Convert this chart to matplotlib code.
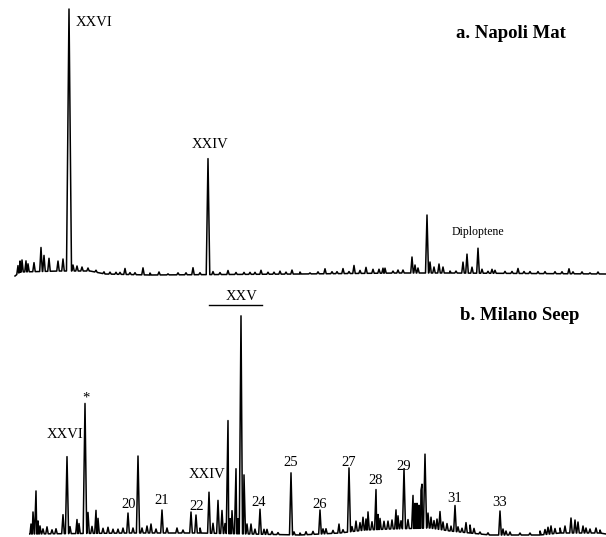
import numpy as np
import matplotlib
matplotlib.use("Agg")
import matplotlib.pyplot as plt

# ---------------- data (retention position, signal intensity) ----------------
# Panel a: Napoli Mat
a_peak_rt = [18, 20, 22, 26, 28, 34, 41, 44, 49, 58, 63, 69, 73, 77, 82, 88, 96, 104, 110, 116,
             120, 125, 130, 135, 143, 150, 159, 168, 178, 186, 193, 200, 208, 213, 220, 228, 236,
             244, 250, 255, 261, 268, 274, 280, 286, 292, 300, 310, 318, 325, 332, 337, 343, 349,
             354, 360, 366, 373, 379, 383, 385, 393, 398, 403, 412, 415, 418, 427, 430, 434, 439,
             443, 450, 456, 463, 467, 472, 478, 482, 488, 492, 495, 505, 512, 518, 524, 530, 538,
             545, 555, 562, 569, 573, 582, 590, 598]
a_peak_int = [8, 11, 12, 11, 8, 9, 24, 16, 13, 10, 12, 262, 6, 5, 4, 3, 2, 2, 2, 2,
              2, 6, 2, 2, 7, 2, 3, 1, 2, 2, 7, 2, 116, 3, 2, 4, 2,
              2, 2, 2, 4, 2, 2, 3, 2, 4, 2, 1, 2, 5, 2, 2, 5, 2,
              8, 3, 6, 4, 4, 5, 5, 2, 3, 3, 16, 8, 5, 58, 11, 6, 9,
              6, 2, 2, 11, 19, 6, 25, 4, 2, 4, 3, 2, 2, 5, 2, 2, 2,
              2, 2, 2, 5, 2, 2, 1, 2]
a_base_rt = [15, 20, 60, 90, 105, 150, 300, 400, 450, 606]
a_base_int = [-2, 2, 3, 3, 0, -1, 0, 1, 1, 0]

# Panel b: Milano Seep
b_peak_rt = [31, 33, 36, 38, 40, 43, 47, 52, 56, 63, 67, 70, 77, 79, 85, 88, 92, 96, 98, 103,
             108, 113, 118, 123, 128, 133, 138, 142, 147, 151, 156, 162, 167, 177, 183, 191, 196,
             200, 209, 213, 218, 222, 225, 228, 230, 232, 236, 238, 241, 244, 247, 251, 255, 260,
             264, 267, 272, 278, 291, 294, 300, 306, 313, 320, 323, 326, 333, 339, 343, 349, 352,
             356, 360, 363, 366, 368, 372, 376, 378, 380, 384, 388, 392, 396, 398, 401, 404, 408,
             413, 415, 417, 419, 421, 422, 425, 428, 431, 434, 437, 440, 443, 447, 451, 455, 458,
             462, 466, 470, 474, 480, 488, 500, 503, 506, 510, 520, 530, 540, 545, 548, 551, 555,
             560, 565, 571, 575, 578, 583, 586, 590, 596, 600]
b_peak_int = [10, 22, 43, 13, 8, 5, 7, 4, 5, 19, 77, 7, 14, 10, 130, 21, 7, 23, 15, 5,
              6, 4, 4, 5, 20, 5, 77, 5, 7, 9, 4, 23, 5, 5, 3, 21, 18,
              5, 41, 10, 33, 23, 10, 113, 15, 23, 65, 15, 218, 59, 10, 10, 5, 25,
              5, 5, 3, 2, 62, 3, 2, 3, 3, 24, 5, 5, 3, 9, 3, 64, 5,
              10, 8, 13, 11, 18, 8, 40, 15, 11, 8, 8, 9, 19, 13, 8, 60, 9,
              33, 25, 25, 23, 38, 44, 74, 15, 11, 8, 10, 18, 8, 7, 5, 26, 5,
              4, 10, 8, 5, 2, 2, 24, 6, 4, 3, 2, 2, 4, 5, 7, 8, 5,
              5, 7, 15, 13, 11, 7, 5, 4, 5, 3]
b_base_rt = [30, 130, 200, 300, 340, 365, 390, 430, 450, 470, 490, 540, 560, 600, 606]
b_base_int = [1, 2, 2, 0, 2, 5, 6, 7, 4, 2, 0, 0, 2, 2, 1]

# Labels
a_labels = ["XXVI", "XXIV", "Diploptene"]
a_label_rt = [76, 210, 478]
a_label_int = [252, 130, 42]

b_labels = ["XXVI", "*", "20", "21", "22", "XXIV", "24", "25", "26", "27", "28", "29", "31", "33"]
b_label_rt = [65, 86, 129, 162, 197, 207, 259, 291, 320, 349, 376, 404, 455, 500]
b_label_int = [101, 137, 30, 34, 29, 60, 32, 72, 31, 72, 55, 69, 37, 32]

xxv_range = [209, 262]
xxv_level = 230

# ---------------- drawing ----------------
W, H = 606, 537
fig = plt.figure(figsize=(W / 100, H / 100), dpi=100)
fig.patch.set_facecolor("white")
serif = ["Liberation Serif", "DejaVu Serif"]


def trace(peak_rt, peak_int, base_rt, base_int):
    peak_rt = np.asarray(peak_rt, float)
    peak_int = np.asarray(peak_int, float)
    xs, ys = list(base_rt), list(base_int)
    for x, h in zip(peak_rt, peak_int):
        w = 1.2 + 0.005 * h
        b0 = np.interp(x, base_rt, base_int)
        xs += [x - w, x, x + w]
        ys += [np.interp(x - w, base_rt, base_int), b0 + h, np.interp(x + w, base_rt, base_int)]
    order = np.argsort(xs, kind="stable")
    return np.asarray(xs)[order], np.asarray(ys)[order]


def make_axes(top_px, bot_px):
    ax = fig.add_axes([0, 1 - bot_px / H, 1, (bot_px - top_px) / H])
    ax.set_xlim(0, W)
    ax.axis("off")
    return ax

# panel a: pixel rows 0..282, baseline reference at row 274
ax_a = make_axes(0, 282)
ax_a.set_ylim(-8, 274)
xa, ya = trace(a_peak_rt, a_peak_int, a_base_rt, a_base_int)
ax_a.plot(xa, ya, color="black", lw=1.1, clip_on=False)
for lab, x, y in zip(a_labels, a_label_rt, a_label_int):
    if lab == "XXVI":
        ax_a.text(x, y, lab, ha="left", va="center", fontsize=10.5, family=serif)
    elif lab == "Diploptene":
        ax_a.text(x, y, lab, ha="center", va="center", fontsize=8.5, family=serif)
    else:
        ax_a.text(x, y, lab, ha="center", va="center", fontsize=10.5, family=serif)
ax_a.text(456, 241, "a. Napoli Mat", ha="left", va="center", fontsize=13.5,
          fontweight="bold", family=serif)

# panel b: pixel rows 282..537, baseline reference at row 535
ax_b = make_axes(282, 537)
ax_b.set_ylim(-2, 253)
xb, yb = trace(b_peak_rt, b_peak_int, b_base_rt, b_base_int)
ax_b.plot(xb, yb, color="black", lw=1.1, clip_on=False)
for lab, x, y in zip(b_labels, b_label_rt, b_label_int):
    ax_b.text(x, y, lab, ha="center", va="center", fontsize=10.5, family=serif)
ax_b.plot(xxv_range, [xxv_level, xxv_level], color="black", lw=1.0)
ax_b.text(np.mean(xxv_range) + 6, xxv_level + 9, "XXV", ha="center", va="center",
          fontsize=10.5, family=serif)
ax_b.text(460, 220, "b. Milano Seep", ha="left", va="center", fontsize=13.5,
          fontweight="bold", family=serif)

fig.savefig("out.png", dpi=100, facecolor="white")
